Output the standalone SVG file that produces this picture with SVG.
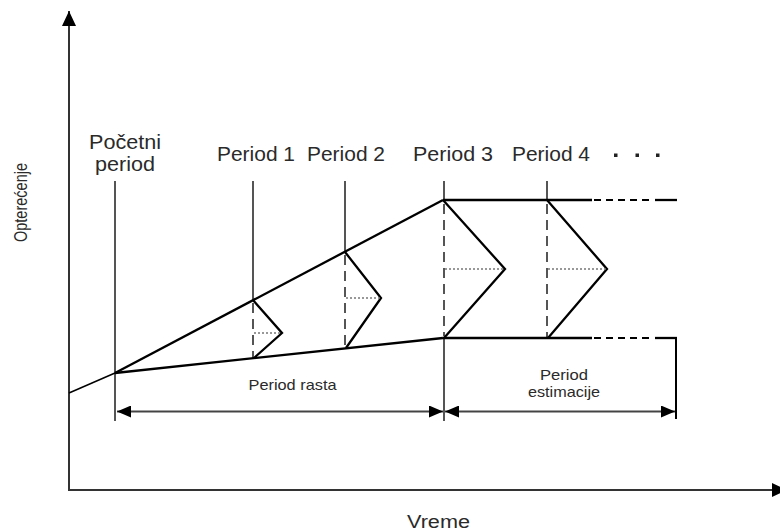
<svg xmlns="http://www.w3.org/2000/svg" width="780" height="531" viewBox="0 0 780 531">
<defs>
<style>
.t{font-family:"Liberation Sans",Arial,sans-serif;fill:#2a2a2a}
.big{font-size:20px}
.sm{font-size:15px}
.ax{stroke:#333;stroke-width:2;fill:none}
.v{stroke:#555;stroke-width:2;fill:none}
.vd{stroke:#555;stroke-width:2;fill:none;stroke-dasharray:10,6}
.k{stroke:#000;stroke-width:2.3;fill:none;stroke-linejoin:miter}
.kd{stroke:#000;stroke-width:2;fill:none;stroke-dasharray:7,5}
.dot{stroke:#777;stroke-width:1.5;fill:none;stroke-dasharray:2,2}
.dim{stroke:#444;stroke-width:2;fill:none}
</style>
<marker id="ah" markerWidth="15" markerHeight="12" refX="14" refY="6" orient="auto-start-reverse" markerUnits="userSpaceOnUse">
<path d="M0,0 L14,6 L0,12 Z" fill="#000"/>
</marker>
<marker id="axh" markerWidth="16" markerHeight="14" refX="15" refY="7" orient="auto" markerUnits="userSpaceOnUse">
<path d="M0,0 L15,7 L0,14 Z" fill="#000"/>
</marker>
</defs>
<rect width="780" height="531" fill="#fff"/>

<g id="axes">
<line class="ax" x1="69" y1="491" x2="69" y2="11" marker-end="url(#axh)"/>
<line class="ax" x1="69" y1="490" x2="787" y2="490" marker-end="url(#axh)"/>
</g>

<g id="verticals">
<line class="v" x1="115" y1="181" x2="115" y2="421"/>
<line class="v" x1="253" y1="181" x2="253" y2="300"/>
<line class="vd" x1="253" y1="303" x2="253" y2="358"/>
<line class="v" x1="345" y1="181" x2="345" y2="252"/>
<line class="vd" x1="345" y1="255" x2="345" y2="348"/>
<line class="v" x1="444" y1="181" x2="444" y2="200"/>
<line class="vd" x1="444" y1="204" x2="444" y2="336"/>
<line class="v" x1="444" y1="338" x2="444" y2="421"/>
<line class="v" x1="547" y1="181" x2="547" y2="200"/>
<line class="vd" x1="547" y1="204" x2="547" y2="338"/>
<line class="k" x1="676" y1="338" x2="676" y2="419" style="stroke-width:2"/>
</g>

<g id="connectors">
<line class="k" x1="69" y1="393" x2="115" y2="373" style="stroke-width:1.5"/>
<polyline class="k" points="115,373 443,200"/>
<polyline class="k" points="115,373 443,338"/>
<line class="k" x1="443" y1="200" x2="592" y2="200"/>
<line class="kd" x1="594" y1="200" x2="654" y2="200"/>
<line class="k" x1="655" y1="200" x2="677" y2="200"/>
<line class="k" x1="443" y1="338" x2="592" y2="338"/>
<line class="kd" x1="594" y1="338" x2="654" y2="338"/>
<line class="k" x1="655" y1="338" x2="677" y2="338"/>
<polyline class="k" points="253,300 282,333 254,358"/>
<polyline class="k" points="345,252 381,298 346,348"/>
<polyline class="k" points="443,200 505,269 444,338"/>
<polyline class="k" points="547,200 607,269 548,338"/>
<line class="dot" x1="254" y1="333" x2="281" y2="333"/>
<line class="dot" x1="346" y1="298" x2="380" y2="298"/>
<line class="dot" x1="445" y1="269" x2="504" y2="269"/>
<line class="dot" x1="548" y1="269" x2="606" y2="269"/>
<line class="dim" x1="117" y1="411.5" x2="443" y2="411.5" marker-start="url(#ah)" marker-end="url(#ah)"/>
<line class="dim" x1="445" y1="411.5" x2="675" y2="411.5" marker-start="url(#ah)" marker-end="url(#ah)"/>
</g>

<g id="labels">
<text class="t big" x="125" y="148.5" text-anchor="middle" textLength="72" lengthAdjust="spacingAndGlyphs">Početni</text>
<text class="t big" x="125" y="171" text-anchor="middle" textLength="60" lengthAdjust="spacingAndGlyphs">period</text>
<text class="t big" x="256" y="161" text-anchor="middle" textLength="78" lengthAdjust="spacingAndGlyphs">Period 1</text>
<text class="t big" x="346" y="161" text-anchor="middle" textLength="78" lengthAdjust="spacingAndGlyphs">Period 2</text>
<text class="t big" x="453" y="161" text-anchor="middle" textLength="80" lengthAdjust="spacingAndGlyphs">Period 3</text>
<text class="t big" x="551" y="161" text-anchor="middle" textLength="78" lengthAdjust="spacingAndGlyphs">Period 4</text>
<rect x="614" y="153.5" width="3.5" height="3.5" fill="#222"/>
<rect x="635.5" y="153.5" width="3.5" height="3.5" fill="#222"/>
<rect x="656" y="153.5" width="3.5" height="3.5" fill="#222"/>
<text class="t sm" x="292.5" y="390" text-anchor="middle" textLength="88" lengthAdjust="spacingAndGlyphs">Period rasta</text>
<text class="t sm" x="564" y="380" text-anchor="middle" textLength="48" lengthAdjust="spacingAndGlyphs">Period</text>
<text class="t sm" x="564" y="397" text-anchor="middle" textLength="72" lengthAdjust="spacingAndGlyphs">estimacije</text>
<text class="t" style="font-size:18px" x="438.5" y="528" text-anchor="middle" textLength="63" lengthAdjust="spacingAndGlyphs">Vreme</text>
<text class="t" style="font-size:19px" x="0" y="0" text-anchor="middle" textLength="79" lengthAdjust="spacingAndGlyphs" transform="translate(27,202.5) rotate(-90)">Opterećenje</text>
</g>
</svg>
